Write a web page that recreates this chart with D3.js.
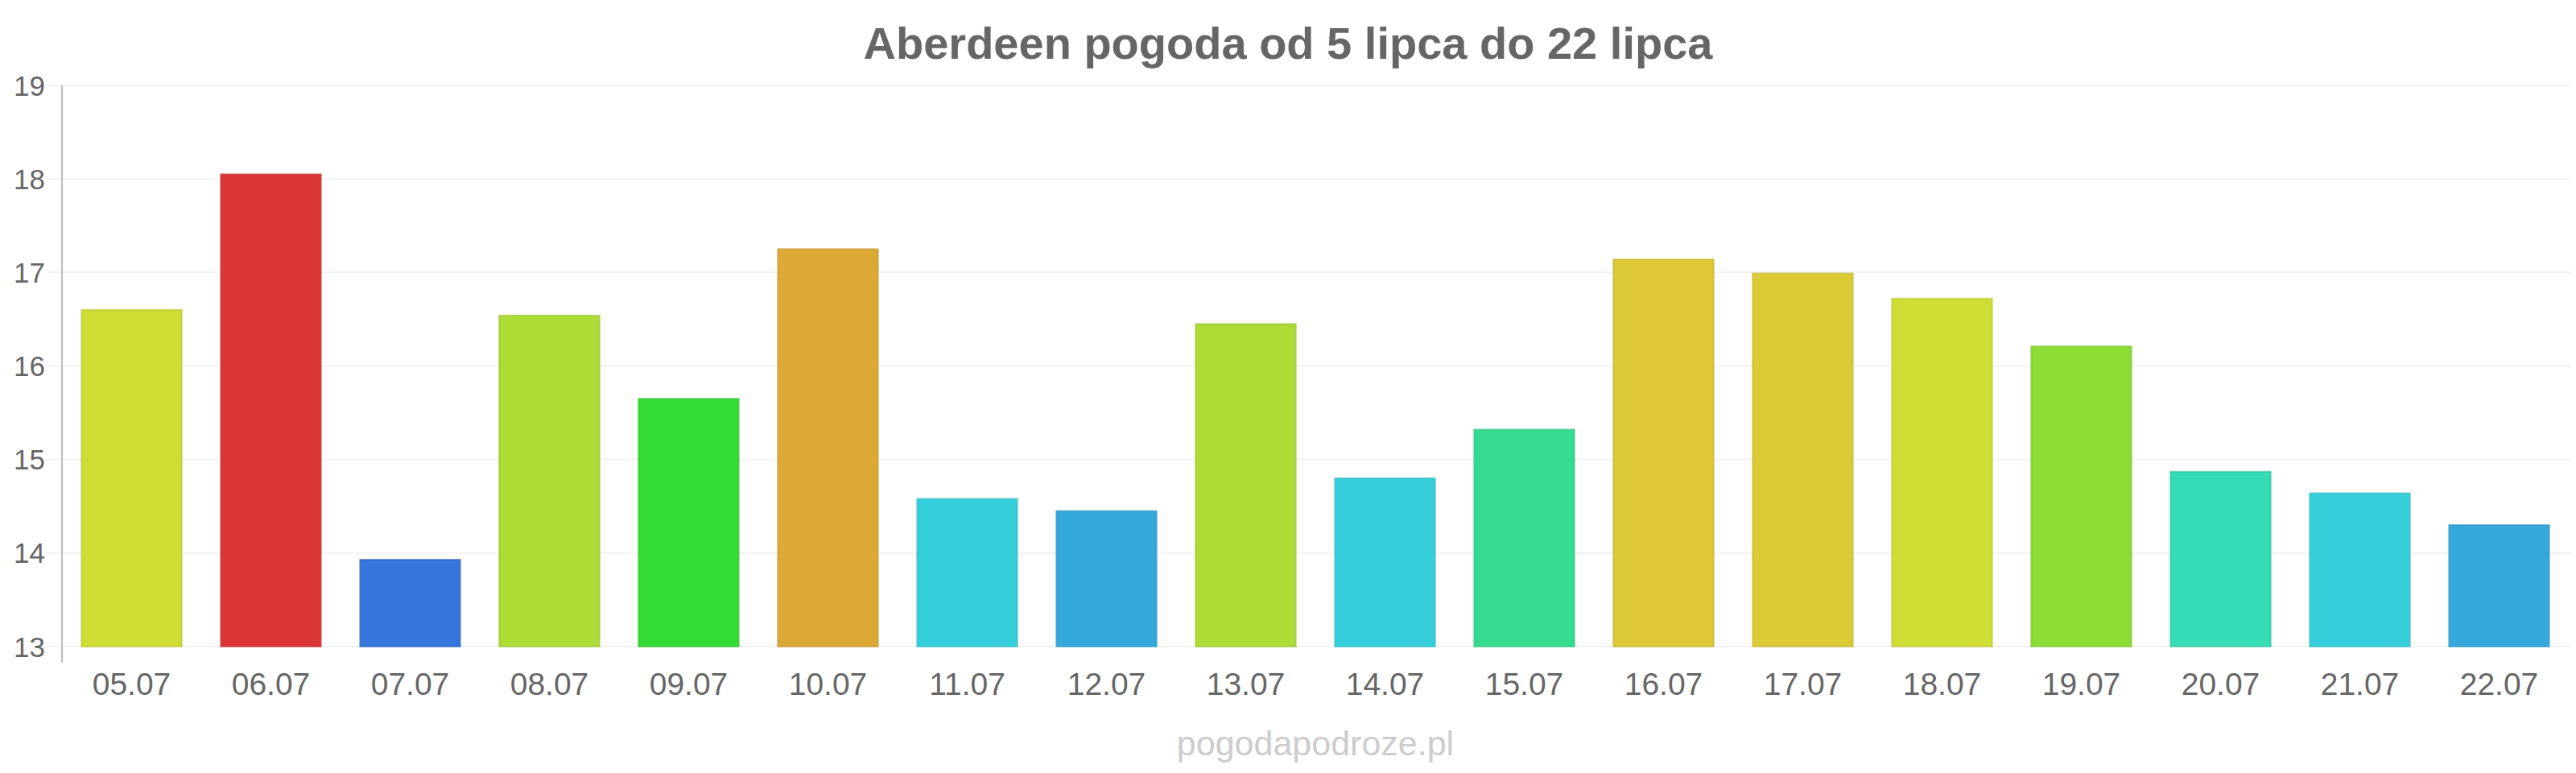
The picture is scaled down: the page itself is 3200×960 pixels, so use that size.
<!DOCTYPE html>
<html>
<head>
<meta charset="utf-8">
<script src="https://cdn.jsdelivr.net/npm/d3@7"></script>
<style>
  body { margin: 0; background: #fff; }
  svg { display: block; font-family: "Liberation Sans", Arial, sans-serif; }
</style>
</head>
<body>
<div class="barChart"></div>
<script>
var titleText = "Aberdeen pogoda od 5 lipca do 22 lipca";
var watermark = "pogodapodroze.pl";

var days = ["05.07", "06.07", "07.07", "08.07", "09.07", "10.07", "11.07", "12.07", "13.07",
            "14.07", "15.07", "16.07", "17.07", "18.07", "19.07", "20.07", "21.07", "22.07"];
var temps = [16.6, 18.05, 13.93, 16.54, 15.65, 17.25, 14.58, 14.45, 16.45,
             14.8, 15.32, 17.14, 16.99, 16.72, 16.21, 14.87, 14.64, 14.3];
var barColors = ["#cfdd35", "#dc3535", "#3575dc", "#acdc35", "#35dc35", "#dca935", "#35cfdc", "#35a9dc", "#acdc35",
                 "#35cfdc", "#35dc8f", "#dcc935", "#dccb35", "#cfdd35", "#8bdc35", "#35dcb5", "#35cfdc", "#35a9dc"];
var yTicks = [13, 14, 15, 16, 17, 18, 19];

function drawBarGraph() {
    var width = 3200, height = 960;
    var plot = { left: 77, right: 3191, top: 106, bottom: 803 };

    var svg = d3.select(".barChart").append("svg")
        .attr("width", width)
        .attr("height", height);

    var scaleX = d3.scaleBand()
        .domain(days)
        .range([plot.left, plot.right])
        .paddingInner(0.28)
        .paddingOuter(0.14);

    var scaleY = d3.scaleLinear()
        .domain([13, 19])
        .range([plot.bottom, plot.top]);

    // horizontal grid lines
    svg.append("g")
        .selectAll("line")
        .data(yTicks)
        .enter()
        .append("line")
        .attr("x1", 58)
        .attr("x2", 3194)
        .attr("y1", d => scaleY(d))
        .attr("y2", d => scaleY(d))
        .attr("stroke", "#f2f2f2")
        .attr("stroke-width", 2);

    // y tick labels
    svg.append("g")
        .selectAll("text")
        .data(yTicks)
        .enter()
        .append("text")
        .attr("x", 56)
        .attr("y", d => scaleY(d))
        .attr("dy", "0.36em")
        .attr("text-anchor", "end")
        .attr("font-size", 35)
        .attr("fill", "#666")
        .text(d => d);

    // left axis line
    svg.append("line")
        .attr("x1", plot.left)
        .attr("x2", plot.left)
        .attr("y1", plot.top)
        .attr("y2", plot.bottom + 20)
        .attr("stroke", "#bbb")
        .attr("stroke-width", 2);

    // bars
    svg.append("g")
        .selectAll("rect")
        .data(temps)
        .enter()
        .append("rect")
        .attr("x", (d, i) => scaleX(days[i]))
        .attr("width", scaleX.bandwidth())
        .attr("y", d => scaleY(d))
        .attr("height", d => scaleY(13) - scaleY(d))
        .attr("fill", (d, i) => barColors[i])
        .attr("stroke", (d, i) => d3.color(barColors[i]).darker(0.35))
        .attr("stroke-opacity", 0.6)
        .attr("stroke-width", 2);

    // x labels
    svg.append("g")
        .selectAll("text")
        .data(days)
        .enter()
        .append("text")
        .attr("x", d => scaleX(d) + scaleX.bandwidth() / 2)
        .attr("y", 863)
        .attr("text-anchor", "middle")
        .attr("font-size", 39)
        .attr("fill", "#666")
        .text(d => d);

    // title
    svg.append("text")
        .attr("x", width / 2)
        .attr("y", 73)
        .attr("text-anchor", "middle")
        .attr("font-size", 56)
        .attr("font-weight", "bold")
        .attr("fill", "#666")
        .text(titleText);

    // source
    svg.append("text")
        .attr("x", (plot.left + plot.right) / 2)
        .attr("y", 938)
        .attr("text-anchor", "middle")
        .attr("font-size", 43)
        .attr("fill", "#ccc")
        .text(watermark);
}
drawBarGraph();
</script>
</body>
</html>
